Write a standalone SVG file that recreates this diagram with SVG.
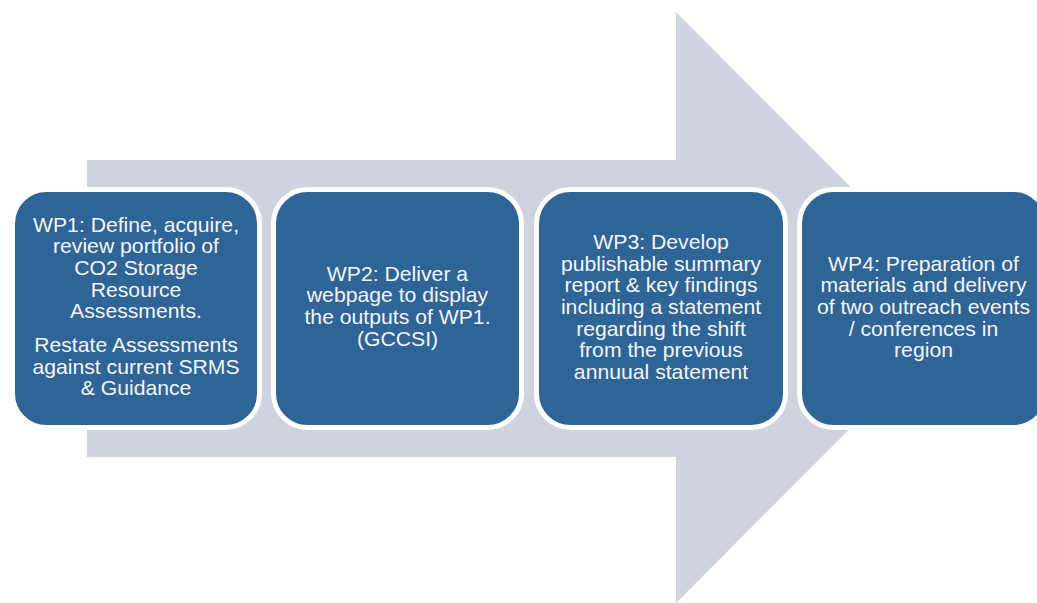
<svg xmlns="http://www.w3.org/2000/svg" width="1037" height="603" viewBox="0 0 1037 603">
  <style>
    .box { fill: #2F6496; stroke: #FFFFFF; stroke-width: 5; }
    .lbl { font-family: "Liberation Sans", Arial, sans-serif; font-size: 20px; fill: #F4F4F4; text-anchor: middle; }
  </style>
  <rect width="1037" height="603" fill="#FFFFFF"/>
  <!-- Background process arrow -->
  <g id="connectors">
    <polygon points="87,160 676,160 676,12 971,307.5 676,603 676,457 87,457" fill="#CDD3DF"/>
  </g>

  <g id="wp1">
    <rect class="box" x="12.5" y="189.5" width="247" height="238" rx="34"/>
    <g transform="translate(136,0) scale(1.06,1)">
      <text class="lbl" x="0" y="231.7">WP1: Define, acquire,</text>
      <text class="lbl" x="0" y="253.4">review portfolio of</text>
      <text class="lbl" x="0" y="275">CO2 Storage</text>
      <text class="lbl" x="0" y="296.7">Resource</text>
      <text class="lbl" x="0" y="318.4">Assessments.</text>
      <text class="lbl" x="0" y="352">Restate Assessments</text>
      <text class="lbl" x="0" y="373.7">against current SRMS</text>
      <text class="lbl" x="0" y="395.4">&amp; Guidance</text>
    </g>
  </g>

  <g id="wp2">
    <rect class="box" x="273.5" y="189.5" width="248" height="238" rx="34"/>
    <g transform="translate(397.5,0) scale(1.06,1)">
      <text class="lbl" x="0" y="280.7">WP2: Deliver a</text>
      <text class="lbl" x="0" y="302.3">webpage to display</text>
      <text class="lbl" x="0" y="324">the outputs of WP1.</text>
      <text class="lbl" x="0" y="345.7">(GCCSI)</text>
    </g>
  </g>

  <g id="wp3">
    <rect class="box" x="536.5" y="189.5" width="249" height="238" rx="34"/>
    <g transform="translate(661,0) scale(1.06,1)">
      <text class="lbl" x="0" y="249">WP3: Develop</text>
      <text class="lbl" x="0" y="270.7">publishable summary</text>
      <text class="lbl" x="0" y="292.3">report &amp; key findings</text>
      <text class="lbl" x="0" y="314">including a statement</text>
      <text class="lbl" x="0" y="335.7">regarding the shift</text>
      <text class="lbl" x="0" y="357.3">from the previous</text>
      <text class="lbl" x="0" y="379">annuual statement</text>
    </g>
  </g>

  <g id="wp4">
    <rect class="box" x="799.5" y="189.5" width="248" height="238" rx="34"/>
    <g transform="translate(923.5,0) scale(1.06,1)">
      <text class="lbl" x="0" y="270.7">WP4: Preparation of</text>
      <text class="lbl" x="0" y="292.3">materials and delivery</text>
      <text class="lbl" x="0" y="314">of two outreach events</text>
      <text class="lbl" x="0" y="335.7">/ conferences in</text>
      <text class="lbl" x="0" y="357.3">region</text>
    </g>
  </g>
</svg>
